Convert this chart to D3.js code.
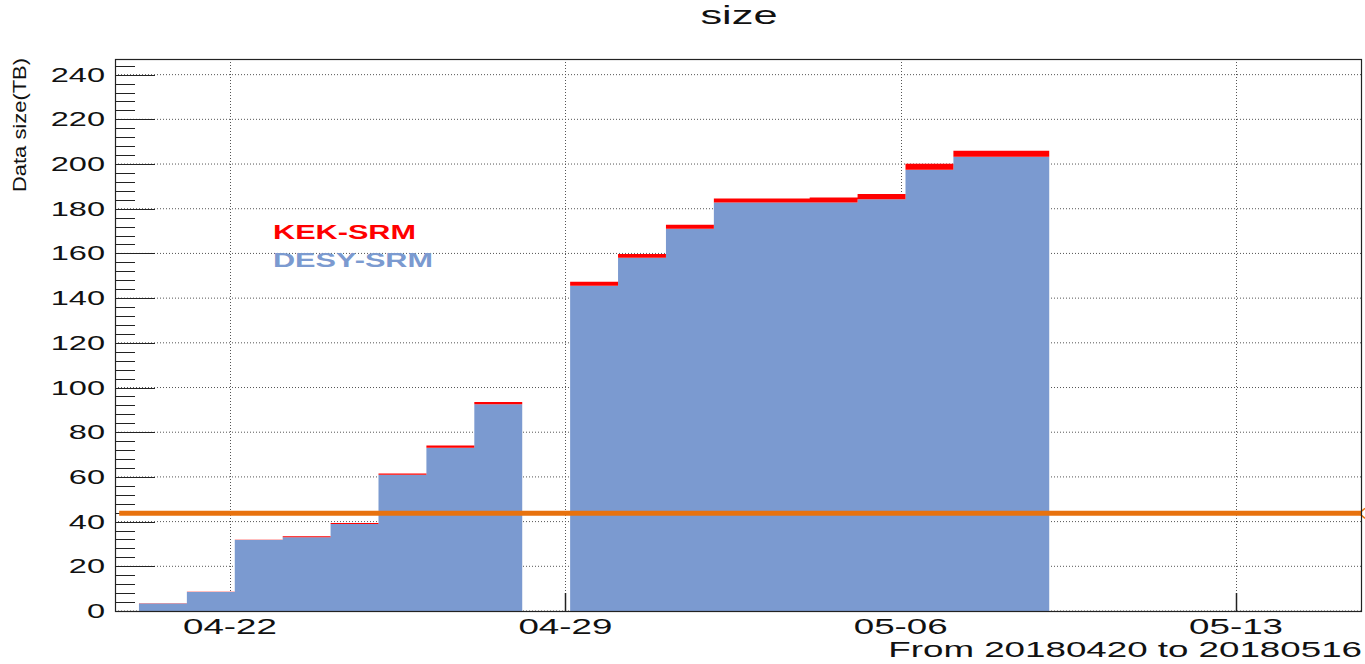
<!DOCTYPE html>
<html>
<head>
<meta charset="utf-8">
<script src="https://cdn.jsdelivr.net/npm/d3@7"></script>
<style>
  body { margin: 0; background: #fff; }
  text { font-family: "Liberation Sans", Arial, Helvetica, sans-serif; }
</style>
</head>
<body>
<script>
// daily bins, one per day (KEK stacked on top of DESY)
var days = ["2018-04-20", "2018-04-21", "2018-04-22", "2018-04-23", "2018-04-24",
            "2018-04-25", "2018-04-26", "2018-04-27", "2018-04-28", "2018-04-29",
            "2018-04-30", "2018-05-01", "2018-05-02", "2018-05-03", "2018-05-04",
            "2018-05-05", "2018-05-06", "2018-05-07", "2018-05-08"];
var desy = [3.4, 8.5, 31.8, 33.0, 38.9, 61.0, 73.1, 92.5, 0,
            145.5, 158.1, 171.0, 182.8, 182.8, 182.8, 184.2, 197.4, 203.3, 203.3];
var kek  = [0.1, 0.1, 0.1, 0.5, 0.5, 0.5, 0.9, 1.0, 0,
            1.8, 1.6, 1.8, 1.8, 1.8, 2.2, 2.4, 2.7, 2.7, 2.7];
var seriesNames = ["KEK-SRM", "DESY-SRM"];
var seriesColors = ["#ff0000", "#7b9ad0"];
var threshold = 43.7;
var yTicks = [0, 20, 40, 60, 80, 100, 120, 140, 160, 180, 200, 220, 240];

var width = 1365, height = 664,
    margin = {top: 59, right: 3, bottom: 53, left: 115};
var sx = 1.67; // picture is stretched horizontally

var svg = d3.select("body").append("svg")
    .attr("width", width)
    .attr("height", height);

var parse = d3.utcParse("%Y-%m-%d");
var binShift = 2.4 * 3600 * 1000; // bins start 2.4h after midnight

var x = d3.scaleUtc()
    .domain([new Date("2018-04-19T14:24:00Z"), new Date("2018-05-15T15:05:00Z")])
    .range([margin.left, width - margin.right]);
var y = d3.scaleLinear()
    .domain([0, 247])
    .range([height - margin.bottom, margin.top]);

var x0 = margin.left, x1 = width - margin.right,
    y0 = height - margin.bottom, y1 = margin.top;

var data = days.map(function(d, i) {
  var s = new Date(parse(d).getTime() + binShift);
  return {start: s, end: d3.utcDay.offset(s, 1), desy: desy[i], kek: kek[i]};
});

// split into runs of non-empty bins, each run drawn as one step area
var runs = [], cur = null;
data.forEach(function(d) {
  if (d.desy + d.kek > 0) {
    if (!cur) { cur = []; runs.push(cur); }
    cur.push(d);
  } else cur = null;
});
runs = runs.map(function(r) {
  var last = r[r.length - 1];
  return r.concat([{start: last.end, desy: last.desy, kek: last.kek}]);
});

var xTicks = x.ticks(d3.utcWeek.every(1));

// grid
svg.append("g").selectAll("line.gy")
    .data(yTicks).enter().append("line")
    .attr("x1", x0).attr("x2", x1)
    .attr("y1", function(d) { return y(d); }).attr("y2", function(d) { return y(d); })
    .attr("stroke", "#555").attr("stroke-width", 1).attr("stroke-dasharray", "1,2");
svg.append("g").selectAll("line.gx")
    .data(xTicks).enter().append("line")
    .attr("x1", function(d) { return Math.round(x(d)) + 0.5; })
    .attr("x2", function(d) { return Math.round(x(d)) + 0.5; })
    .attr("y1", y1).attr("y2", y0)
    .attr("stroke", "#555").attr("stroke-width", 1).attr("stroke-dasharray", "1,2");

// y ticks (major every 20, minor every 4)
var minor = d3.range(0, 248, 4);
svg.append("g").selectAll("line")
    .data(minor).enter().append("line")
    .attr("x1", x0)
    .attr("x2", function(d) { return d % 20 === 0 ? x0 + 40 : x0 + 20; })
    .attr("y1", function(d) { return Math.round(y(d)) + 0.5; })
    .attr("y2", function(d) { return Math.round(y(d)) + 0.5; })
    .attr("stroke", "#222").attr("stroke-width", 1);

// x ticks
svg.append("g").selectAll("line")
    .data(xTicks).enter().append("line")
    .attr("x1", function(d) { return Math.round(x(d)) + 0.5; })
    .attr("x2", function(d) { return Math.round(x(d)) + 0.5; })
    .attr("y1", y0).attr("y2", y0 - 18)
    .attr("stroke", "#222").attr("stroke-width", 1.5);

// stacked histogram
var desyArea = d3.area().curve(d3.curveStepAfter)
    .x(function(d) { return x(d.start); })
    .y0(y(0))
    .y1(function(d) { return y(d.desy); });
var kekArea = d3.area().curve(d3.curveStepAfter)
    .x(function(d) { return x(d.start); })
    .y0(function(d) { return y(d.desy); })
    .y1(function(d) { return y(d.desy + d.kek); });

var bars = svg.append("g");
bars.selectAll("path.desy")
    .data(runs).enter().append("path")
    .attr("d", desyArea)
    .attr("fill", seriesColors[1]);
bars.selectAll("path.kek")
    .data(runs).enter().append("path")
    .attr("d", kekArea)
    .attr("fill", seriesColors[0]);

// threshold line
var lineStart = new Date("2018-04-19T16:30:00Z");
svg.append("line")
    .attr("x1", x(lineStart)).attr("x2", x1)
    .attr("y1", y(threshold)).attr("y2", y(threshold))
    .attr("stroke", "#e8720e").attr("stroke-width", 5);
svg.append("path")
    .attr("d", "M" + (x1 + 3) + "," + (y(threshold) - 5) + "L" + (x1 - 3) + "," + y(threshold) +
               "L" + (x1 + 3) + "," + (y(threshold) + 5))
    .attr("fill", "none").attr("stroke", "#e8720e").attr("stroke-width", 1.5);

// frame
svg.append("rect")
    .attr("x", x0 + 0.5).attr("y", y1 + 0.5)
    .attr("width", x1 - x0 - 1).attr("height", y0 - y1)
    .attr("fill", "none").attr("stroke", "#222").attr("stroke-width", 1.2);

// y labels
svg.append("g").selectAll("text")
    .data(yTicks).enter().append("text")
    .attr("transform", function(d) { return "translate(105," + (y(d) + 7) + ") scale(" + sx + ",1)"; })
    .attr("text-anchor", "end")
    .attr("font-size", 19.5)
    .attr("fill", "#111")
    .text(function(d) { return d; });

// x labels
var fmt = d3.utcFormat("%m-%d");
svg.append("g").selectAll("text")
    .data(xTicks).enter().append("text")
    .attr("transform", function(d) { return "translate(" + x(d) + ",634) scale(" + sx + ",1)"; })
    .attr("text-anchor", "middle")
    .attr("font-size", 22)
    .attr("fill", "#111")
    .text(function(d) { return fmt(d); });

svg.append("text")
    .attr("transform", "translate(" + x1 + ",657) scale(" + sx + ",1)")
    .attr("text-anchor", "end")
    .attr("font-size", 22)
    .attr("fill", "#111")
    .text("From 20180420 to 20180516");

// y title
svg.append("text")
    .attr("transform", "translate(26," + (y1 - 1) + ") rotate(-90)")
    .attr("text-anchor", "end")
    .attr("font-size", 19)
    .attr("textLength", 134)
    .attr("lengthAdjust", "spacingAndGlyphs")
    .attr("fill", "#111")
    .text("Data size(TB)");

// title
svg.append("text")
    .attr("transform", "translate(739,24) scale(" + sx + ",1)")
    .attr("text-anchor", "middle")
    .attr("font-size", 26)
    .attr("fill", "#111")
    .text("size");

// legend
var legLen = [143, 160];
svg.append("g").selectAll("text")
    .data(seriesNames).enter().append("text")
    .attr("x", 273)
    .attr("y", function(d, i) { return 239 + i * 28; })
    .attr("font-size", 19.5)
    .attr("font-weight", "bold")
    .attr("textLength", function(d, i) { return legLen[i]; })
    .attr("lengthAdjust", "spacingAndGlyphs")
    .attr("fill", function(d, i) { return seriesColors[i]; })
    .text(function(d) { return d; });
</script>
</body>
</html>
